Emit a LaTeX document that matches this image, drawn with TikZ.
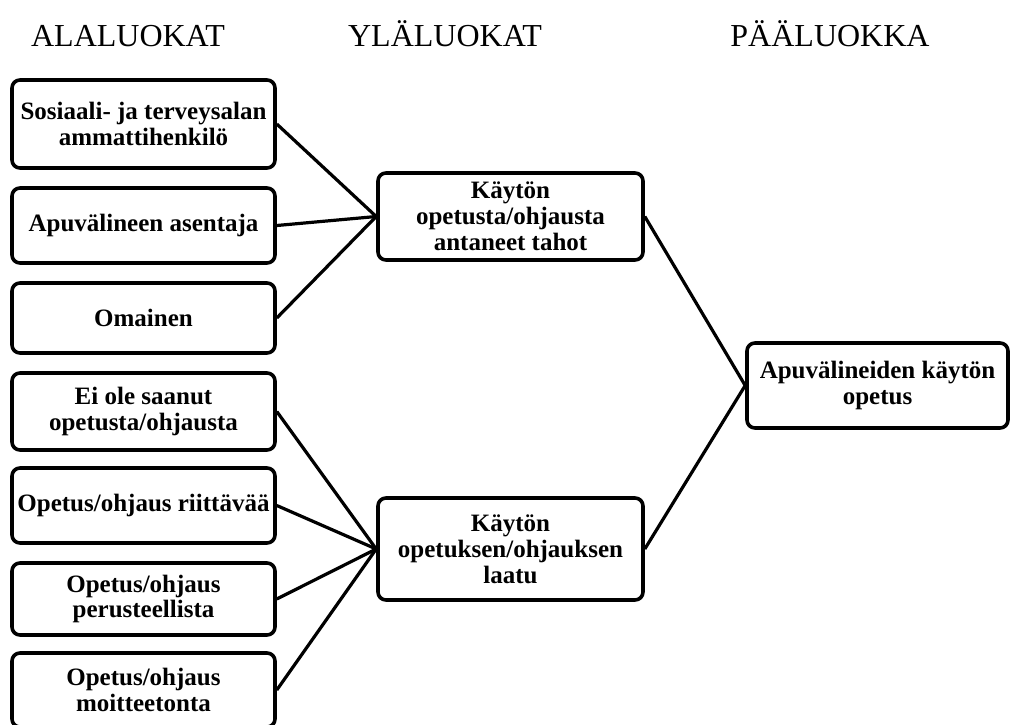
\documentclass[tikz,border=0pt]{standalone}
\usepackage{fontspec}
\setmainfont{Liberation Serif}
\begin{document}
\begin{tikzpicture}[x=1pt,y=-1pt,
  box/.style={draw, line width=3.6pt, rounded corners=8pt, minimum width=263pt,
    align=center, inner sep=0pt,
    font=\fontsize{25}{25.8}\selectfont\bfseries},
  head/.style={anchor=base, font=\fontsize{32}{34}\selectfont},
  link/.style={line width=3.2pt}]
\useasboundingbox (0,0) rectangle (1010,724);

% column headings
\node[head] (h1) at (128,46) {ALALUOKAT};
\node[head] (h2) at (445,46) {YLÄLUOKAT};
\node[head] (h3) at (830,46) {PÄÄLUOKKA};

% sub-categories
\node[box, minimum height=88pt] (s1) at (143.5,124)   {Sosiaali- ja terveysalan\\ammattihenkilö};
\node[box, minimum height=75pt] (s2) at (143.5,225.5) {Apuvälineen asentaja};
\node[box, minimum height=70pt] (s3) at (143.5,318)   {Omainen};
\node[box, minimum height=77pt] (s4) at (143.5,411.5) {Ei ole saanut\\opetusta/ohjausta};
\node[box, minimum height=75pt] (s5) at (143.5,505.5) {Opetus/ohjaus riittävää};
\node[box, minimum height=72pt] (s6) at (143.5,599)   {Opetus/ohjaus\\perusteellista};
\node[box, minimum height=74pt] (s7) at (143.5,690)   {Opetus/ohjaus\\moitteetonta};

% upper categories
\node[box, minimum width=265pt, minimum height=87pt] (u1) at (510.5,216.5) {Käytön\\opetusta/ohjausta\\antaneet tahot};
\node[box, minimum width=265pt, minimum height=102pt] (u2) at (510.5,549) {Käytön\\opetuksen/ohjauksen\\laatu};

% main category
\node[box, minimum width=261pt, minimum height=85pt] (m) at (877.5,385.5) {Apuvälineiden käytön\\opetus};

% connectors
\foreach \s in {s1,s2,s3} \draw[link] (\s.east) -- (u1.west);
\foreach \s in {s4,s5,s6,s7} \draw[link] (\s.east) -- (u2.west);
\draw[link] (u1.east) -- (m.west);
\draw[link] (u2.east) -- (m.west);
\end{tikzpicture}
\end{document}
